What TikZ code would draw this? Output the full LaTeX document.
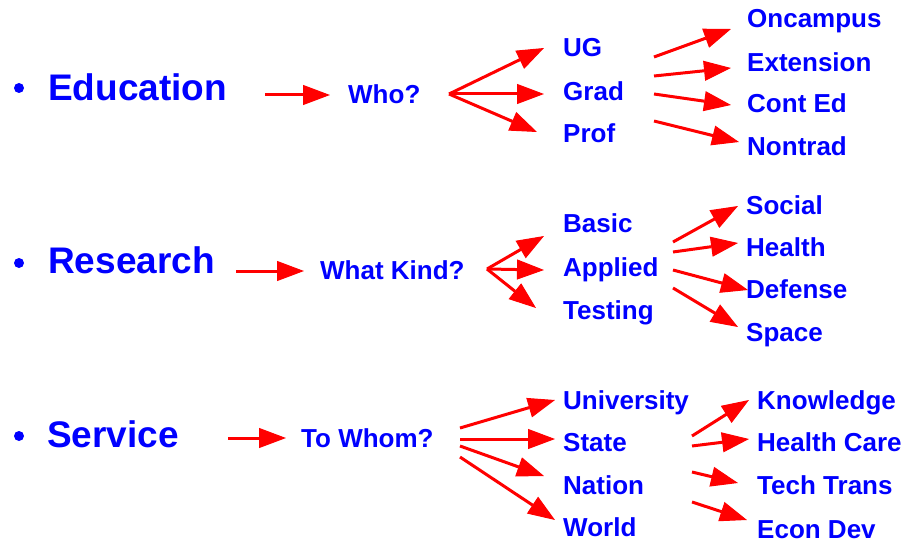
\documentclass[tikz,border=0pt]{standalone}
\usepackage{fontspec}
\setmainfont{Liberation Sans}
\usetikzlibrary{arrows.meta}
\definecolor{tblue}{RGB}{0,0,255}
\definecolor{ared}{RGB}{255,0,0}
\tikzset{
  big/.style={anchor=base west, inner sep=0pt, text=tblue, font=\fontsize{37}{37}\selectfont\bfseries},
  sm/.style={anchor=base west, inner sep=0pt, text=tblue, font=\fontsize{26}{26}\selectfont\bfseries},
  bul/.style={circle, fill=tblue, inner sep=0pt, minimum size=10pt},
  arr/.style={draw=ared, line width=3pt, -{Triangle[length=27pt,width=20pt,line width=1pt]}, fill=ared}
}
\begin{document}
\begin{tikzpicture}[x=1pt,y=-1pt]
\useasboundingbox (0,0) rectangle (908,543);
% Row 1
\node[bul] (b1) at (19,88) {};
\node[big] (Edu) at (48,100) {Education};
\node[sm] (Who) at (348,103) {Who?};
\node[sm] (UG) at (563,57) {UG};
\node[sm] (Grad) at (563,100) {Grad};
\node[sm] (Prof) at (563,142) {Prof};
\node[sm] (Onc) at (747,28) {Oncampus};
\node[sm] (Ext) at (747,71) {Extension};
\node[sm] (Cont) at (747,112) {Cont Ed};
\node[sm] (Nont) at (747,155) {Nontrad};
\coordinate (s1) at (265,95);
\coordinate (f1) at (449,94);
\coordinate (g1) at (654,57);
\coordinate (g2) at (654,76);
\coordinate (g3) at (654,94);
\coordinate (g4) at (654,121);
\draw[arr] (s1) -- ([shift={(-18,-8)}]Who.base west);
\draw[arr] (f1) -- ([shift={(-19,-9)}]UG.base west);
\draw[arr] (f1) -- ([shift={(-19,-6)}]Grad.base west);
\draw[arr] (f1) -- ([shift={(-26,-10)}]Prof.base west);
\draw[arr] (g1) -- ([shift={(-16,1)}]Onc.base west);
\draw[arr] (g2) -- ([shift={(-16,-3)}]Ext.base west);
\draw[arr] (g3) -- ([shift={(-16,-7)}]Cont.base west);
\draw[arr] (g4) -- ([shift={(-8,-13)}]Nont.base west);
% Row 2
\node[bul] (b2) at (19,263) {};
\node[big] (Res) at (48,273) {Research};
\node[sm] (WK) at (320,279) {What Kind?};
\node[sm] (Basic) at (563,232) {Basic};
\node[sm] (Appl) at (563,276) {Applied};
\node[sm] (Test) at (563,319) {Testing};
\node[sm] (Soc) at (746,214) {Social};
\node[sm] (Hea) at (746,256) {Health};
\node[sm] (Def) at (746,298) {Defense};
\node[sm] (Spa) at (746,341) {Space};
\coordinate (s2) at (236,271);
\coordinate (f2) at (487,269);
\coordinate (h1) at (673,242);
\coordinate (h2) at (673,252);
\coordinate (h3) at (673,270);
\coordinate (h4) at (673,288);
\draw[arr] (s2) -- ([shift={(-16,-8)}]WK.base west);
\draw[arr] (f2) -- ([shift={(-19,4)}]Basic.base west);
\draw[arr] (f2) -- ([shift={(-19,-6)}]Appl.base west);
\draw[arr] (f2) -- ([shift={(-27,-11)}]Test.base west);
\draw[arr] (h1) -- ([shift={(-8,-8)}]Soc.base west);
\draw[arr] (h2) -- ([shift={(-8,-13)}]Hea.base west);
\draw[arr] (h3) -- ([shift={(2,-8)}]Def.base west);
\draw[arr] (h4) -- ([shift={(-8,-14)}]Spa.base west);
% Row 3
\node[bul] (b3) at (19,436) {};
\node[big] (Ser) at (47,447) {Service};
\node[sm] (TW) at (301,447) {To Whom?};
\node[sm] (Uni) at (563,409) {University};
\node[sm] (Sta) at (563,451) {State};
\node[sm] (Nat) at (563,494) {Nation};
\node[sm] (Wor) at (563,536) {World};
\node[sm] (Kno) at (757,409) {Knowledge};
\node[sm] (HC) at (757,451) {Health Care};
\node[sm] (TT) at (757,494) {Tech Trans};
\node[sm] (ED) at (757,538) {Econ Dev};
\coordinate (s3) at (228,438);
\coordinate (k1) at (460,428);
\coordinate (k2) at (460,439);
\coordinate (k3) at (460,446);
\coordinate (k4) at (460,457);
\coordinate (m1) at (692,436);
\coordinate (m2) at (692,446);
\coordinate (m3) at (692,472);
\coordinate (m4) at (692,502);
\draw[arr] (s3) -- ([shift={(-15,-9)}]TW.base west);
\draw[arr] (k1) -- ([shift={(-8,-9)}]Uni.base west);
\draw[arr] (k2) -- ([shift={(-8,-12)}]Sta.base west);
\draw[arr] (k3) -- ([shift={(-19,-18)}]Nat.base west);
\draw[arr] (k4) -- ([shift={(-8,-16)}]Wor.base west);
\draw[arr] (m1) -- ([shift={(-8,-9)}]Kno.base west);
\draw[arr] (m2) -- ([shift={(-8,-12)}]HC.base west);
\draw[arr] (m3) -- ([shift={(-19,-11)}]TT.base west);
\draw[arr] (m4) -- ([shift={(-10,-18)}]ED.base west);
\end{tikzpicture}
\end{document}
